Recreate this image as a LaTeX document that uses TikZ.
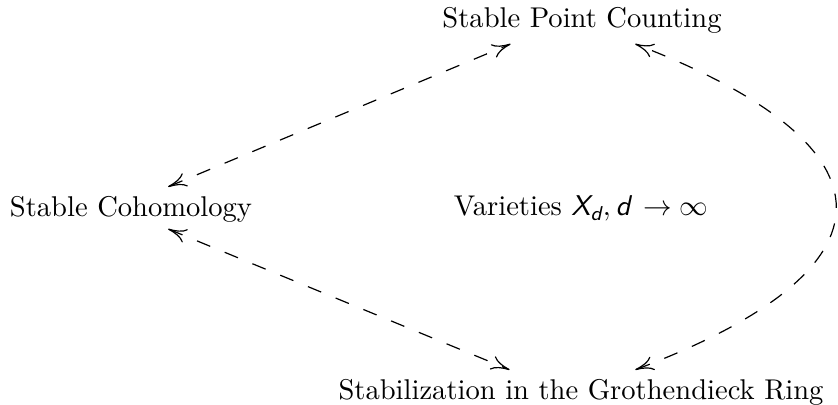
\documentclass[tikz,border=0pt]{standalone}
\usepackage{amsmath}
\usetikzlibrary{arrows.meta,calc}
\begin{document}
\begin{tikzpicture}[x=0.35pt,y=-0.35pt,
  lbl/.style={inner sep=3.33pt, anchor=base},
  link/.style={<->, >={To[length=6.5pt,width=5pt]}, dash pattern=on 5pt off 5.5pt, line width=0.42pt}]
\useasboundingbox (0,0) rectangle (838,405);
\node[lbl] (coh) at (131,217) {Stable Cohomology};
\node[lbl] (var) at (581,216) {Varieties $\textsf{\itshape X}_{\textsf{\itshape d}}, \mathord{\textsf{\itshape d}} \mathrel{\,\to} \infty$};
\node[lbl] (spc) at (582,28) {Stable Point Counting};
\node[lbl] (stab) at (581,400) {Stabilization in the Grothendieck Ring};
\draw[link] ([xshift=13pt]coh.north) -- ([xshift=-25pt]spc.south);
\draw[link] ([xshift=13pt,yshift=1.4pt]coh.south) -- ([xshift=-25pt]stab.north);
\draw[link] ([xshift=19pt]stab.north) .. controls (903,269) and (903,147) .. ([xshift=18.6pt]spc.south);
\end{tikzpicture}
\end{document}
